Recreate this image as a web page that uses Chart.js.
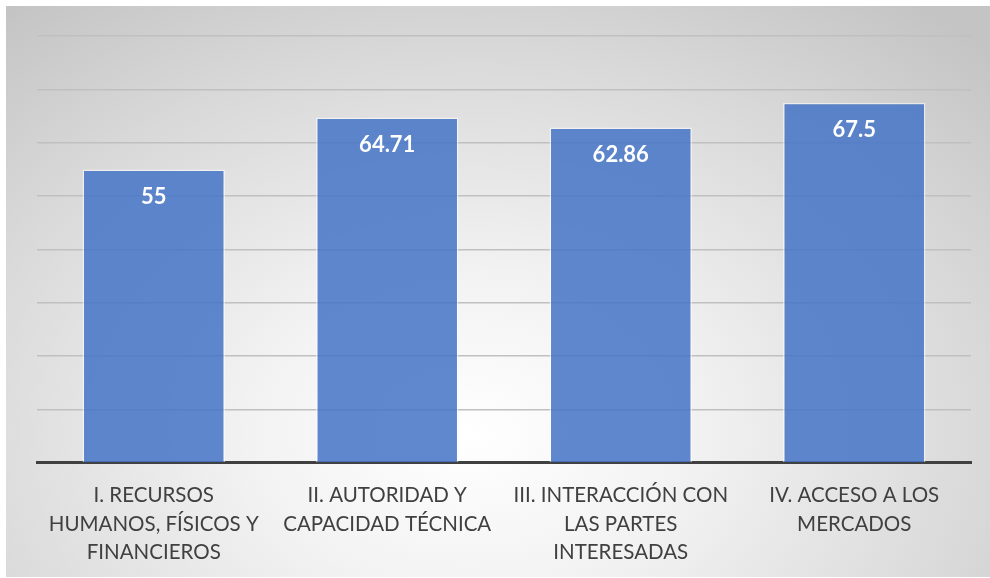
<!DOCTYPE html>
<html>
<head>
<meta charset="utf-8">
<script src="https://cdn.jsdelivr.net/npm/chart.js@4.4.1/dist/chart.umd.min.js"></script>
<style>
    html, body { margin: 0; padding: 0; background: #ffffff; }
    #wrap {
        position: absolute;
        left: 6px; top: 6px;
        width: 984px; height: 571px;
        background: radial-gradient(ellipse 75% 95% at 47% 75%, #ffffff 0%, #f2f2f2 30%, #d9d9d9 70%, #c4c4c4 100%);
    }
</style>
</head>
<body>
<div id="wrap"><canvas id="chart"></canvas></div>
<script>
const categories = [
    ['I. RECURSOS', 'HUMANOS, FÍSICOS Y', 'FINANCIEROS'],
    ['II. AUTORIDAD Y', 'CAPACIDAD TÉCNICA'],
    ['III. INTERACCIÓN CON', 'LAS PARTES', 'INTERESADAS'],
    ['IV. ACCESO A LOS', 'MERCADOS']
];
const values = [55, 64.71, 62.86, 67.5];
const yMin = 0;
const yMax = 80;
const yStep = 10;

// etiquetas blancas dentro de cada barra
const barLabels = {
    id: 'barLabels',
    afterDatasetsDraw(chart) {
        const ctx = chart.ctx;
        const meta = chart.getDatasetMeta(0);
        ctx.save();
        ctx.fillStyle = '#ffffff';
        ctx.font = 'bold 22px Lato, "Open Sans", sans-serif';
        ctx.textAlign = 'center';
        ctx.textBaseline = 'middle';
        meta.data.forEach((bar, i) => {
            ctx.fillText(String(values[i]), bar.x, bar.y + 27);
        });
        ctx.restore();
    }
};

new Chart(document.getElementById('chart'), {
    type: 'bar',
    data: {
        labels: categories,
        datasets: [{
            data: values,
            backgroundColor: 'rgba(70, 116, 198, 0.86)',
            borderColor: 'rgba(255, 255, 255, 0.55)',
            borderWidth: 1.5,
            barPercentage: 0.61,
            categoryPercentage: 1.0
        }]
    },
    options: {
        responsive: true,
        maintainAspectRatio: false,
        animation: false,
        layout: {
            padding: { left: 31, right: 19, top: 30, bottom: 0 }
        },
        plugins: {
            legend: { display: false },
            tooltip: { enabled: false }
        },
        scales: {
            x: {
                grid: { display: false },
                border: { display: true, color: '#404040', width: 3 },
                ticks: {
                    color: '#404040',
                    font: { family: 'Lato, "Open Sans", sans-serif', size: 20.5, lineHeight: 1.4 },
                    padding: 10,
                    maxRotation: 0,
                    autoSkip: false
                }
            },
            y: {
                min: yMin,
                max: yMax,
                ticks: { display: false, stepSize: yStep },
                border: { display: false },
                grid: { color: '#c0c0c0', lineWidth: 1.5, drawTicks: false },
                afterFit(scale) { scale.width = 0; }
            }
        }
    },
    plugins: [barLabels]
});
</script>
</body>
</html>
